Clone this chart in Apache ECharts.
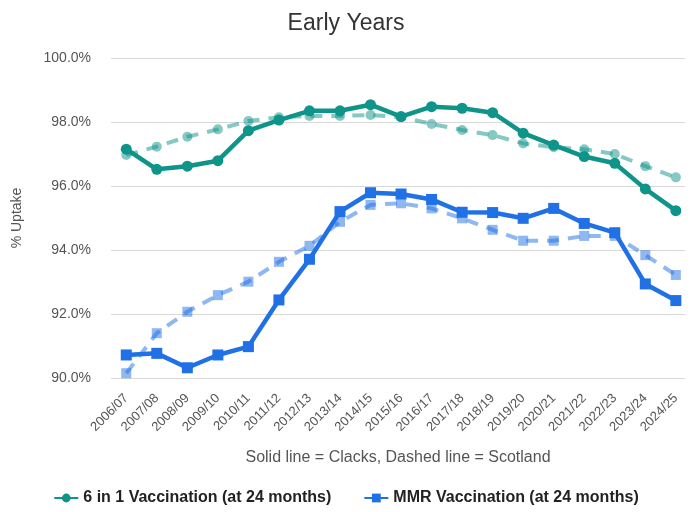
<!DOCTYPE html>
<html><head><meta charset="utf-8">
<script src="https://cdn.jsdelivr.net/npm/echarts@6/dist/echarts.min.js"></script>
<style>html,body{margin:0;padding:0;background:#fff}#c{width:692px;height:512px}</style>
</head><body><div id="c"></div>
<script>
const categories = ['2006/07','2007/08','2008/09','2009/10','2010/11','2011/12','2012/13','2013/14','2014/15','2015/16','2016/17','2017/18','2018/19','2019/20','2020/21','2021/22','2022/23','2023/24','2024/25'];
const sixInOneClacks = [97.15,96.52,96.62,96.79,97.73,98.06,98.35,98.35,98.54,98.17,98.48,98.43,98.29,97.65,97.28,96.92,96.71,95.91,95.23];
const sixInOneScotland = [96.97,97.23,97.54,97.77,98.03,98.15,98.19,98.19,98.22,98.15,97.94,97.75,97.59,97.33,97.21,97.15,97.0,96.62,96.27];
const mmrClacks = [90.72,90.77,90.32,90.72,90.98,92.44,93.71,95.2,95.79,95.75,95.58,95.18,95.17,94.99,95.30,94.83,94.54,92.94,92.42];
const mmrScotland = [90.15,91.40,92.07,92.59,93.01,93.63,94.13,94.88,95.41,95.46,95.30,94.99,94.63,94.29,94.29,94.44,94.44,93.84,93.22];

const teal = '#0e9488', blue = '#2070e6';
const pairs = arr => arr.map((v,i)=>[i,v]);
const idx = categories.map((c,i)=>i);

const chart = echarts.init(document.getElementById('c'));
chart.setOption({
  animation:false,
  textStyle:{fontFamily:'Liberation Sans, Arial, sans-serif'},
  title:{text:'Early Years',left:'center',top:7,textStyle:{fontSize:23,fontWeight:'normal',color:'#333'}},
  grid:{left:111,right:7,top:58,bottom:134},
  legend:{data:['6 in 1 Vaccination (at 24 months)','MMR Vaccination (at 24 months)'],bottom:1,left:'center',itemGap:32,itemWidth:24,itemHeight:11,
    textStyle:{fontSize:16,fontWeight:'bold',color:'#222'}},
  xAxis:{type:'value',min:-0.5,max:18.3,
    name:'Solid line = Clacks, Dashed line = Scotland',nameLocation:'middle',nameGap:72,nameTextStyle:{fontSize:16,color:'#555'},
    axisLine:{show:false},axisTick:{show:false},splitLine:{show:false},
    axisLabel:{customValues:idx,rotate:45,fontSize:13,color:'#555',margin:18,formatter:v=>categories[Math.round(v)]}},
  yAxis:{type:'value',min:90,max:100,interval:2,
    name:'% Uptake',nameLocation:'middle',nameGap:87,nameTextStyle:{fontSize:14,color:'#555'},
    axisLine:{show:false},axisTick:{show:false},
    splitLine:{lineStyle:{color:'#d8d8d8',width:1}},
    axisLabel:{fontSize:14,color:'#555',margin:20,formatter:v=>v.toFixed(1)+'%'}},
  series:[
    {name:'6 in 1 Vaccination (at 24 months) Scotland',type:'line',data:pairs(sixInOneScotland),symbol:'circle',symbolSize:10,
      lineStyle:{color:teal,width:4,type:[12,9],opacity:0.5},itemStyle:{color:teal,opacity:0.5},z:1},
    {name:'MMR Vaccination (at 24 months) Scotland',type:'line',data:pairs(mmrScotland),symbol:'rect',symbolSize:10,
      lineStyle:{color:blue,width:4,type:[12,9],opacity:0.5},itemStyle:{color:blue,opacity:0.5},z:1},
    {name:'6 in 1 Vaccination (at 24 months)',type:'line',data:pairs(sixInOneClacks),symbol:'circle',symbolSize:11,
      lineStyle:{color:teal,width:4.5},itemStyle:{color:teal},z:3},
    {name:'MMR Vaccination (at 24 months)',type:'line',data:pairs(mmrClacks),symbol:'rect',symbolSize:11,
      lineStyle:{color:blue,width:4.5},itemStyle:{color:blue},z:3}
  ]
});
</script></body></html>
